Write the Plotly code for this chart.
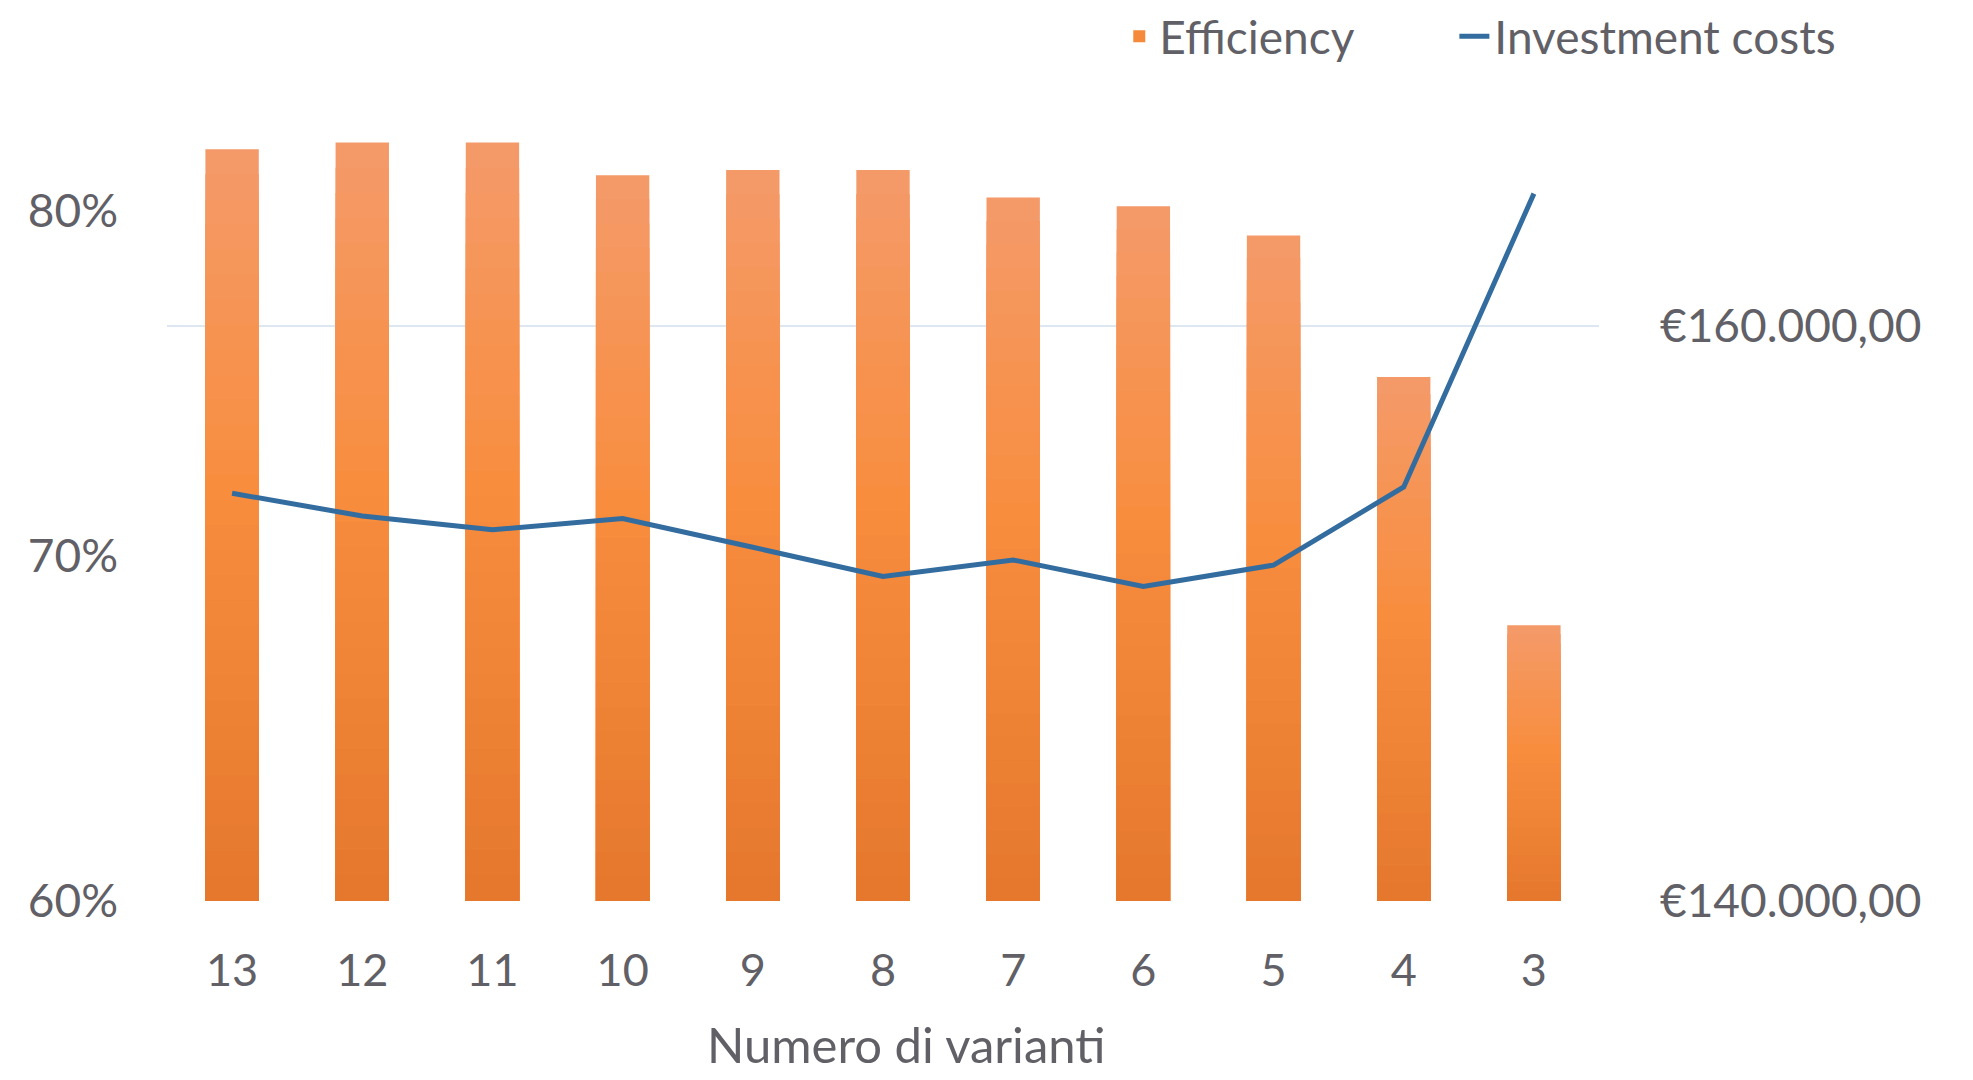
import plotly.graph_objects as go

categories = ["13", "12", "11", "10", "9", "8", "7", "6", "5", "4", "3"]
efficiency = [81.8, 82.0, 82.0, 81.05, 81.2, 81.2, 80.4, 80.15, 79.3, 75.2, 68.0]  # percent
investment = [154180, 153390, 152910, 153300, 152300, 151290, 151860, 150940, 151680, 154400, 164600]

left_ticks = [60, 70, 80]
left_ticktext = ["60%", "70%", "80%"]
right_ticks = [140000, 160000]
right_ticktext = ["€140.000,00", "€160.000,00"]
x_title = "Numero di varianti"

grad_stops = [(0.0, (244, 154, 104)), (0.45, (248, 141, 62)), (1.0, (229, 120, 45))]

def grad_color(t):
    for (t0, c0), (t1, c1) in zip(grad_stops[:-1], grad_stops[1:]):
        if t0 <= t <= t1:
            f = (t - t0) / (t1 - t0)
            c = [round(a + (b - a) * f) for a, b in zip(c0, c1)]
            return "rgb(%d,%d,%d)" % tuple(c)
    return "rgb(%d,%d,%d)" % grad_stops[-1][1]

BASE = 60
TXT = "#606066"
FONT = "Lato"

fig = go.Figure()
N = 30
for k in range(N):
    frac = 1 - k / N
    fig.add_trace(go.Bar(
        x=categories,
        y=[(v - BASE) * frac for v in efficiency],
        base=BASE,
        marker=dict(color=grad_color(k / (N - 1)), line=dict(width=0)),
        name="Efficiency",
        showlegend=(k == N // 2),
        legendgroup="eff",
        legend="legend",
        hoverinfo="skip" if k else None,
        yaxis="y",
    ))

fig.add_trace(go.Scatter(
    x=categories, y=investment, mode="lines", name="Investment costs",
    line=dict(color="#336C9E", width=5), yaxis="y2", legend="legend2",
))

leg_common = dict(orientation="h", xanchor="left", yanchor="top", y=1.125,
                  font=dict(size=46, color=TXT), itemsizing="constant",
                  bgcolor="rgba(0,0,0,0)")

fig.add_annotation(text=x_title, xref="paper", yref="paper", x=0.516, y=-0.1785,
                   xanchor="center", yanchor="middle", showarrow=False,
                   font=dict(size=49, color=TXT, family=FONT))

fig.update_layout(
    width=1973, height=1080,
    margin=dict(l=167, r=374, t=100, b=179, autoexpand=False),
    paper_bgcolor="white", plot_bgcolor="white",
    barmode="overlay", bargap=0.59,
    font=dict(family=FONT, size=45, color=TXT),
    legend=dict(x=0.665, **leg_common),
    legend2=dict(x=0.899, **leg_common),
    xaxis=dict(type="category", showgrid=False, showline=False, ticks="",
               tickfont=dict(size=45, color=TXT), ticklabelstandoff=39, automargin=False),
    yaxis=dict(range=[60, 83.23], tickvals=left_ticks, ticktext=left_ticktext,
               showgrid=False, zeroline=False, showline=False, ticks="", automargin=False,
               tickfont=dict(size=46, color=TXT), ticklabelstandoff=48),
    yaxis2=dict(range=[140000, 167856], tickvals=right_ticks, ticktext=right_ticktext,
                overlaying="y", side="right", showgrid=True, gridcolor="#DCE7F2", gridwidth=2,
                zeroline=False, showline=False, ticks="", automargin=False,
                tickfont=dict(size=46, color=TXT), ticklabelstandoff=60),
)

fig.write_html("out.html", config={"displayModeBar": False},
               post_script="document.body.style.margin='0';")
